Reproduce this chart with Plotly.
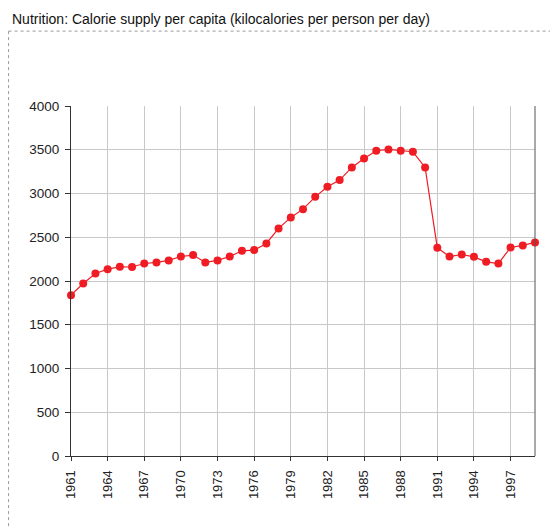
import plotly.graph_objects as go

years = list(range(1961, 2000))
calories = [1838, 1972, 2086, 2135, 2162, 2160, 2200, 2212, 2235, 2280,
            2296, 2212, 2235, 2280, 2345, 2353, 2429, 2601, 2727, 2821,
            2962, 3077, 3153, 3298, 3401, 3489, 3504, 3489, 3477, 3298,
            2379, 2280, 2303, 2276, 2219, 2200, 2383, 2407, 2441]
title_text = "Nutrition: Calorie supply per capita (kilocalories per person per day)"
x_ticks = list(range(1961, 1999, 3))
y_ticks = list(range(0, 4001, 500))

fig = go.Figure()
fig.add_trace(go.Scatter(
    x=years, y=calories, mode="lines+markers",
    line=dict(color="#f01c24", width=1.2),
    marker=dict(color="#f01c24", size=8),
    cliponaxis=False, showlegend=False,
))

fig.update_layout(
    width=550, height=521,
    margin=dict(l=63, r=23, t=98, b=73),
    paper_bgcolor="white", plot_bgcolor="white",
    font=dict(family="Liberation Sans, Arial, sans-serif", size=13.5, color="#222"),
    annotations=[dict(
        text=title_text, xref="paper", yref="paper",
        x=-0.131, y=1.249, xanchor="left", yanchor="middle",
        showarrow=False, font=dict(size=14, color="#111"),
    )],
    shapes=[
        dict(type="line", xref="paper", yref="paper", x0=-0.1345, x1=1.2,
             y0=1.214, y1=1.214, line=dict(color="#999", width=1, dash="dot")),
        dict(type="line", xref="paper", yref="paper", x0=-0.1345, x1=-0.1345,
             y0=1.214, y1=-0.3, line=dict(color="#999", width=1, dash="dot")),
        dict(type="line", xref="paper", yref="paper", x0=1, x1=1,
             y0=0, y1=1, line=dict(color="#555", width=1)),
    ],
)

fig.update_xaxes(
    range=[1961, 1999], tickvals=x_ticks, ticktext=[str(v) for v in x_ticks],
    tickangle=-90, showgrid=True, gridcolor="#c8c8c8", gridwidth=1,
    showline=True, linecolor="#333", linewidth=1,
    ticks="outside", ticklen=4, tickcolor="#333", zeroline=False,
    tickfont=dict(size=13), ticklabelstandoff=4,
)
fig.update_yaxes(
    range=[0, 4000], tickvals=y_ticks, showgrid=True, gridcolor="#c8c8c8",
    gridwidth=1, showline=True, linecolor="#333", linewidth=1,
    ticks="outside", ticklen=5, tickcolor="#333", zeroline=False,
    ticklabelstandoff=3,
)

fig.write_html("out.html")
